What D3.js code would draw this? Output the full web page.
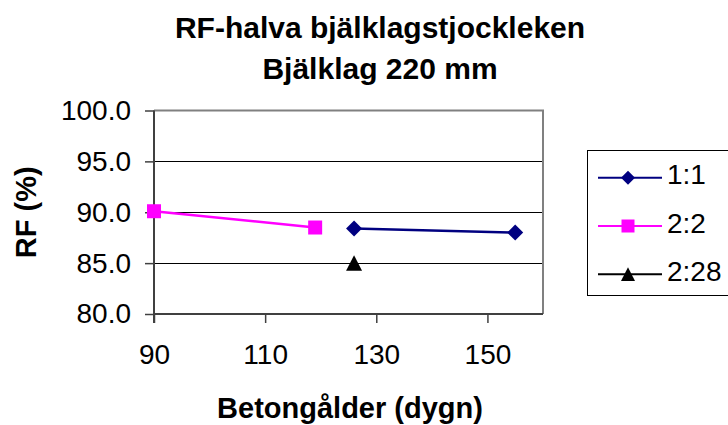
<!DOCTYPE html>
<html>
<head>
<meta charset="utf-8">
<script src="https://d3js.org/d3.v7.min.js"></script>
<style>
  html, body { margin: 0; padding: 0; background: #fff; }
  svg { display: block; font-family: "Liberation Sans", Arial, sans-serif; }
</style>
</head>
<body>
<svg id="chart" width="728" height="425"></svg>
<script>
// ---- data ----
const titleLines = ["RF-halva bjälklagstjockleken", "Bjälklag 220 mm"];
const xLabel = "Betongålder (dygn)";
const yLabel = "RF (%)";
const seriesNames = ["1:1", "2:2", "2:28"];
const seriesColors = ["#000080", "#FF00FF", "#000000"];
const seriesShapes = ["diamond", "square", "triangle"];
const x11 = [126, 155];
const y11 = [88.4, 88.0];
const x22 = [90, 119];
const y22 = [90.1, 88.5];
const x228 = [126];
const y228 = [85.0];
const xTicks = [90, 110, 130, 150];
const yTicks = [80, 85, 90, 95, 100];
const xDomain = [90, 160];
const yDomain = [80, 100];

const series = [
  { name: seriesNames[0], xs: x11, ys: y11, color: seriesColors[0], shape: seriesShapes[0] },
  { name: seriesNames[1], xs: x22, ys: y22, color: seriesColors[1], shape: seriesShapes[1] },
  { name: seriesNames[2], xs: x228, ys: y228, color: seriesColors[2], shape: seriesShapes[2] }
];

const svg = d3.select("#chart");
const L = 154, R = 543, T = 110.5, B = 314;
const x = d3.scaleLinear().domain(xDomain).range([L, R]);
const y = d3.scaleLinear().domain(yDomain).range([B, T]);

// gridlines
svg.append("g").selectAll("line").data(yTicks.filter(d => d > yDomain[0] && d < yDomain[1]))
  .join("line")
  .attr("x1", L).attr("x2", R)
  .attr("y1", d => Math.round(y(d)) + 0.5).attr("y2", d => Math.round(y(d)) + 0.5)
  .attr("stroke", "#000").attr("stroke-width", 1);

// plot border (top/right)
svg.append("path")
  .attr("d", `M${L},${T}H${R}V${B}`)
  .attr("fill", "none").attr("stroke", "#808080").attr("stroke-width", 2);

// axes
const xAxis = d3.axisBottom(x).tickValues(xTicks).tickSize(9).tickSizeOuter(0).tickPadding(21)
  .tickFormat(d3.format("d"));
const gx = svg.append("g").attr("transform", `translate(0,${B})`).call(xAxis);
gx.select(".domain").attr("stroke", "#404040").attr("stroke-width", 2).attr("d", `M${L},0H${R}`);
gx.selectAll(".tick line").attr("stroke", "#404040").attr("stroke-width", 1.5);
gx.selectAll("text").attr("font-size", 28).attr("fill", "#000")
  .attr("font-family", "Liberation Sans, Arial, sans-serif");

const yAxis = d3.axisLeft(y).tickValues(yTicks).tickSize(9).tickSizeOuter(0).tickPadding(14)
  .tickFormat(d3.format(".1f"));
const gy = svg.append("g").attr("transform", `translate(${L},0)`).call(yAxis);
gy.select(".domain").attr("stroke", "#404040").attr("stroke-width", 2).attr("d", `M0,${T}V${B + 9}`);
gy.selectAll(".tick line").attr("stroke", "#404040").attr("stroke-width", 1.5);
gy.selectAll("text").attr("font-size", 28).attr("fill", "#000")
  .attr("font-family", "Liberation Sans, Arial, sans-serif");

// marker symbol
function symbolPath(shape, s) {
  const h = s / 2;
  if (shape === "diamond") return `M0,${-h}L${h},0L0,${h}L${-h},0Z`;
  if (shape === "square") return `M${-h},${-h}H${h}V${h}H${-h}Z`;
  return `M0,${-h}L${h},${h * 0.95}L${-h},${h * 0.95}Z`;
}

// series
series.forEach(s => {
  const pts = s.xs.map((xv, i) => [xv, s.ys[i]]);
  if (pts.length > 1) {
    svg.append("path")
      .attr("d", d3.line().x(d => x(d[0])).y(d => y(d[1]))(pts))
      .attr("fill", "none").attr("stroke", s.color).attr("stroke-width", 2.5);
  }
  svg.append("g").selectAll("path").data(pts).join("path")
    .attr("transform", d => `translate(${x(d[0])},${y(d[1])})`)
    .attr("d", symbolPath(s.shape, s.shape === "square" ? 14 : 16))
    .attr("fill", s.color);
});

// title
svg.append("g").selectAll("text").data(titleLines).join("text")
  .attr("x", 380).attr("y", (d, i) => 38 + i * 41)
  .attr("text-anchor", "middle").attr("font-weight", "bold").attr("font-size", 30)
  .text(d => d);

// axis titles
svg.append("text").attr("x", 350).attr("y", 418)
  .attr("text-anchor", "middle").attr("font-weight", "bold").attr("font-size", 29)
  .text(xLabel);
svg.append("text").attr("transform", `translate(36,${(T + B) / 2}) rotate(-90)`)
  .attr("text-anchor", "middle").attr("font-weight", "bold").attr("font-size", 29)
  .text(yLabel);

// legend
const lg = svg.append("g");
lg.append("rect").attr("x", 587.5).attr("y", 150.5).attr("width", 150).attr("height", 145)
  .attr("fill", "#fff").attr("stroke", "#000").attr("stroke-width", 1);
series.forEach((s, i) => {
  const cy = 177.7 + i * 48.3;
  lg.append("line").attr("x1", 598).attr("x2", 662).attr("y1", cy).attr("y2", cy)
    .attr("stroke", s.color).attr("stroke-width", 2);
  lg.append("path").attr("transform", `translate(628,${cy})`)
    .attr("d", symbolPath(s.shape, s.shape === "square" ? 13 : 14)).attr("fill", s.color);
  lg.append("text").attr("x", 667).attr("y", cy + 6.5).attr("font-size", 28)
    .text(s.name);
});
</script>
</body>
</html>
